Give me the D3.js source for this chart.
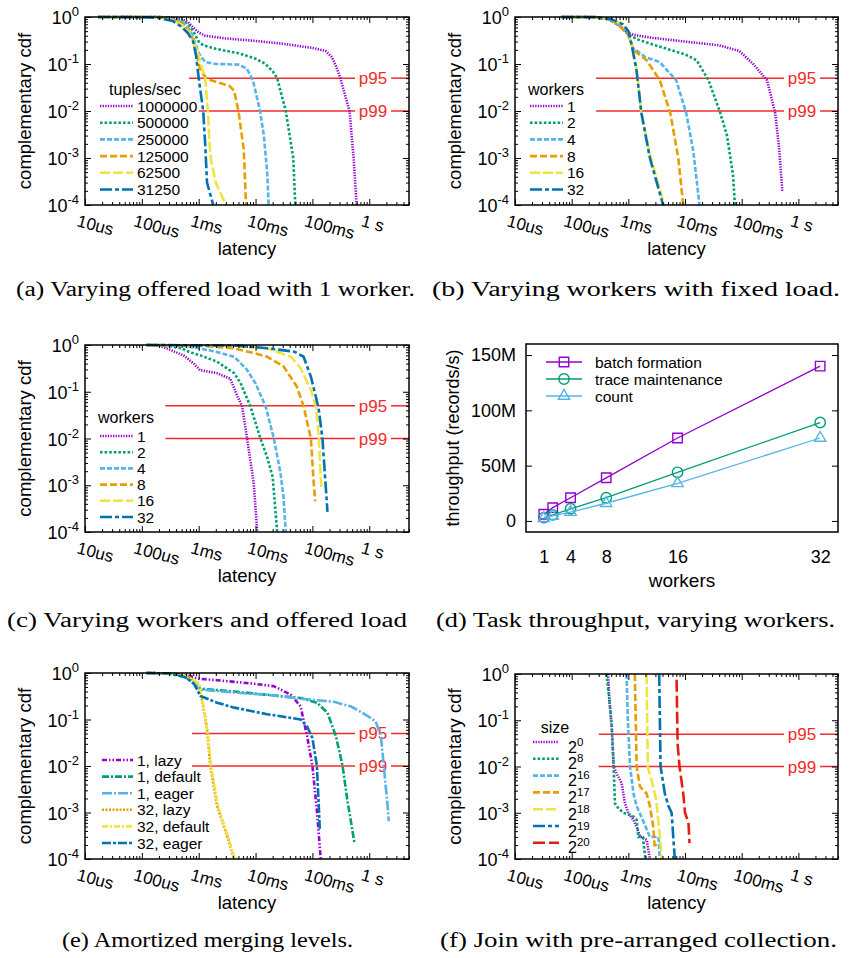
<!DOCTYPE html>
<html>
<head>
<meta charset="utf-8">
<script src="https://cdn.jsdelivr.net/npm/d3@7"></script>
<style>
  body { margin: 0; background: #fff; }
  svg { display: block; }
  text { font-family: "Liberation Sans", Arial, Helvetica, sans-serif; }
  text.caption { font-family: "Liberation Serif", "Times New Roman", serif; }
</style>
</head>
<body>
<svg width="849" height="958"></svg>
<script>
// latency axis (seconds) and ccdf axis
const latencyTicks = [1e-5, 1e-4, 1e-3, 1e-2, 1e-1, 1];
const latencyLabels = ["10us", "100us", "1ms", "10ms", "100ms", "1 s"];
const ccdfExponents = [0, -1, -2, -3, -4];
const percentileValues = [0.05, 0.01];
const percentileLabels = ["p95", "p99"];

// (a) offered load, 1 worker: [latency s, ccdf]
const loadLabels = ["1000000", "500000", "250000", "125000", "62500", "31250"];
const loadCurves = [
  [[1.7e-5,1],[2e-4,1],[3.5e-4,0.96],[5e-4,0.9],[6.5e-4,0.78],[8e-4,0.6],[1e-3,0.47],[1.3e-3,0.4],[3e-3,0.35],[1e-2,0.31],[3e-2,0.27],[1e-1,0.22],[1.7e-1,0.19],[2.2e-1,0.14],[2.6e-1,0.09],[3.1e-1,0.05],[4.5e-1,0.01],[5.3e-1,1e-3],[6e-1,1e-4]],
  [[1.7e-5,1],[2e-4,1],[3.5e-4,0.93],[5e-4,0.85],[6.5e-4,0.72],[8e-4,0.5],[1e-3,0.3],[1.2e-3,0.25],[2e-3,0.21],[5e-3,0.17],[1e-2,0.13],[1.5e-2,0.1],[2e-2,0.07],[2.4e-2,0.05],[3.4e-2,0.01],[4.2e-2,2e-3],[4.6e-2,1e-3],[5e-2,1e-4]],
  [[1.7e-5,1],[2e-4,1],[3.5e-4,0.9],[5e-4,0.8],[6.5e-4,0.6],[8e-4,0.38],[1e-3,0.17],[1.3e-3,0.11],[2e-3,0.1],[5e-3,0.097],[7e-3,0.08],[9e-3,0.045],[1.2e-2,0.01],[1.4e-2,3e-3],[1.6e-2,5e-4],[1.7e-2,1e-4]],
  [[1.7e-5,1],[2e-4,1],[3.5e-4,0.88],[5e-4,0.75],[6.5e-4,0.55],[8e-4,0.33],[1e-3,0.1],[1.1e-3,0.07],[1.4e-3,0.048],[2e-3,0.042],[3.5e-3,0.034],[4.2e-3,0.027],[5e-3,0.01],[6.2e-3,1.5e-3],[6.8e-3,1e-4]],
  [[1.7e-5,1],[2e-4,0.99],[3.5e-4,0.86],[5e-4,0.68],[6.5e-4,0.5],[8e-4,0.33],[1e-3,0.15],[1.15e-3,0.08],[1.3e-3,0.05],[1.45e-3,0.01],[1.55e-3,2e-3],[1.65e-3,9e-4],[2e-3,3e-4],[3e-3,1e-4]],
  [[1.7e-5,1],[1e-4,0.99],[2e-4,0.95],[3.5e-4,0.82],[5e-4,0.62],[6.5e-4,0.45],[8e-4,0.3],[9e-4,0.15],[1e-3,0.05],[1.2e-3,0.01],[1.3e-3,2e-3],[1.4e-3,3e-4],[1.8e-3,1e-4]]
];

// (b) fixed load, varying workers
const workerLabels = ["1", "2", "4", "8", "16", "32"];
const fixedLoadCurves = [
  [[6.6e-5,1],[2.5e-4,1],[4.5e-4,0.9],[7e-4,0.65],[1e-3,0.45],[1.5e-3,0.4],[2.7e-3,0.36],[1e-2,0.3],[4e-2,0.25],[9e-2,0.19],[1.6e-1,0.1],[2.8e-1,0.045],[3.9e-1,0.009],[4.6e-1,1.5e-3],[5.2e-1,2e-4]],
  [[6.6e-5,1],[2.5e-4,1],[4.5e-4,0.9],[7e-4,0.65],[1e-3,0.42],[1.5e-3,0.33],[2.7e-3,0.26],[1e-2,0.16],[1.6e-2,0.12],[2.6e-2,0.045],[4.2e-2,0.009],[5.5e-2,3e-3],[7e-2,4.5e-4],[7.6e-2,1e-4]],
  [[6.6e-5,1],[2.5e-4,1],[5e-4,0.88],[7e-4,0.65],[1e-3,0.42],[1.2e-3,0.22],[2e-3,0.14],[3.6e-3,0.11],[5e-3,0.07],[7e-3,0.045],[1.05e-2,0.009],[1.4e-2,1.4e-3],[1.8e-2,1e-4]],
  [[6.6e-5,1],[2.5e-4,1],[5e-4,0.88],[7e-4,0.65],[1e-3,0.42],[1.23e-3,0.2],[2.1e-3,0.12],[3.6e-3,0.045],[5.5e-3,0.009],[7.6e-3,1e-3],[9.3e-3,1e-4]],
  [[6.6e-5,1],[2.5e-4,0.99],[5e-4,0.9],[8e-4,0.7],[1e-3,0.5],[1.15e-3,0.25],[1.4e-3,0.08],[1.7e-3,0.009],[2.4e-3,1.2e-3],[4.3e-3,1e-4]],
  [[6.6e-5,1],[2.5e-4,0.99],[5e-4,0.9],[8e-4,0.7],[1e-3,0.5],[1.15e-3,0.25],[1.4e-3,0.07],[1.7e-3,0.009],[2.4e-3,1e-3],[4.1e-3,1e-4]]
];

// (c) varying workers and offered load
const scaledLoadCurves = [
  [[1.2e-4,1],[2e-4,0.97],[2.7e-4,0.85],[5.4e-4,0.6],[8.2e-4,0.4],[1.05e-3,0.29],[2.1e-3,0.25],[3.6e-3,0.19],[4.8e-3,0.08],[5.8e-3,0.049],[7.1e-3,0.01],[9.3e-3,1.1e-3],[1.07e-2,1e-4]],
  [[1.2e-4,1],[3e-4,0.95],[5e-4,0.85],[7e-4,0.7],[1.07e-3,0.6],[2.1e-3,0.44],[4.2e-3,0.25],[5.5e-3,0.15],[8.1e-3,0.049],[1.22e-2,0.01],[1.6e-2,4e-3],[2e-2,1.5e-3],[2.4e-2,1e-4]],
  [[1.2e-4,1],[5e-4,0.98],[1e-3,0.85],[2e-3,0.72],[4.2e-3,0.56],[7e-3,0.3],[1e-2,0.15],[1.5e-2,0.049],[2.1e-2,0.01],[2.75e-2,1.8e-3],[3.1e-2,5.6e-4],[3.4e-2,1e-4]],
  [[1.2e-4,1],[1e-3,0.97],[4e-3,0.85],[1e-2,0.66],[1.6e-2,0.56],[3.1e-2,0.35],[5.3e-2,0.13],[7e-2,0.049],[9.4e-2,0.01],[1.05e-1,1.2e-3],[1.12e-1,4.5e-4]],
  [[1.2e-4,1],[3e-3,0.97],[1.6e-2,0.85],[4.2e-2,0.56],[6.2e-2,0.32],[9.4e-2,0.11],[1.15e-1,0.049],[1.3e-1,0.01],[1.4e-1,1.5e-3],[1.45e-1,8e-4]],
  [[1.2e-4,1],[5e-3,0.97],[1.6e-2,0.85],[4.8e-2,0.72],[7e-2,0.56],[9.4e-2,0.21],[1.15e-1,0.078],[1.3e-1,0.04],[1.5e-1,0.01],[1.7e-1,1.1e-3],[1.84e-1,2.7e-4]]
];

// (d) task throughput (million records/s)
const throughputWorkers = [1, 2, 4, 8, 16, 32];
const workerTickValues = [1, 4, 8, 16, 32];
const throughputTickValues = [0, 50, 100, 150];
const throughputLabels = ["batch formation", "trace maintenance", "count"];
const batchFormation = [6, 12, 21, 39, 75, 140];
const traceMaintenance = [3, 5.5, 11, 21, 44, 89];
const countTask = [2.5, 4.5, 8, 16, 34, 75];

// (e) amortized merging levels
const mergeLabels = ["1, lazy", "1, default", "1, eager", "32, lazy", "32, default", "32, eager"];
const mergeCurves = [
  [[1.2e-4,1],[3e-4,0.98],[6.2e-4,0.9],[1e-3,0.75],[2.1e-3,0.7],[8e-3,0.6],[2.1e-2,0.52],[4.2e-2,0.34],[6.2e-2,0.19],[8.1e-2,0.043],[1e-1,0.01],[1.2e-1,1.1e-3],[1.4e-1,1e-4]],
  [[1.2e-4,1],[4e-4,0.95],[6e-4,0.8],[8e-4,0.6],[1.07e-3,0.46],[4.2e-3,0.4],[1.6e-2,0.34],[6.2e-2,0.29],[1.2e-1,0.23],[1.84e-1,0.14],[2.6e-1,0.043],[3.4e-1,0.01],[4.1e-1,1.9e-3],[5.5e-1,2.2e-4]],
  [[1.2e-4,1],[4e-4,0.95],[6e-4,0.8],[8e-4,0.6],[1.07e-3,0.44],[4.2e-3,0.38],[1.6e-2,0.34],[6.2e-2,0.28],[2.4e-1,0.24],[4.8e-1,0.19],[9.3e-1,0.12],[1.3,0.09],[1.6,0.045],[1.8,0.01],[2.1,1.4e-3],[2.2,6.5e-4]],
  [[1.2e-4,1],[3e-4,0.98],[6.2e-4,0.85],[1e-3,0.6],[1.23e-3,0.16],[1.4e-3,0.06],[1.6e-3,0.01],[2.1e-3,1.4e-3],[3.2e-3,3e-4],[4.2e-3,1e-4]],
  [[1.2e-4,1],[3e-4,0.98],[6.2e-4,0.85],[1e-3,0.6],[1.25e-3,0.16],[1.45e-3,0.05],[1.65e-3,0.01],[2.2e-3,1.3e-3],[3.3e-3,3e-4],[4.3e-3,1e-4]],
  [[1.2e-4,1],[3e-4,0.98],[6e-4,0.8],[8.2e-4,0.6],[1.07e-3,0.32],[2.1e-3,0.23],[4.2e-3,0.18],[1.6e-2,0.13],[6.2e-2,0.1],[8.1e-2,0.07],[1e-1,0.04],[1.2e-1,0.01],[1.3e-1,1.2e-3],[1.35e-1,4.3e-4]]
];

// (f) join with pre-arranged collection, size = 2^k
const sizeExponents = [0, 8, 16, 17, 18, 19, 20];
const joinCurves = [
  [[4.4e-4,1],[4.6e-4,0.3],[5.1e-4,0.07],[5.5e-4,0.01],[6.2e-4,7e-3],[7.6e-4,4.4e-3],[8.7e-4,1.6e-3],[1e-3,1e-3],[1.23e-3,7e-4],[1.4e-3,5e-4],[1.6e-3,3.1e-4],[2.1e-3,2.6e-4],[2.4e-3,1e-4]],
  [[4.1e-4,1],[4.6e-4,0.3],[5.1e-4,0.07],[5.5e-4,0.01],[5.8e-4,1.6e-3],[6.5e-4,1.3e-3],[8.1e-4,1e-3],[1.23e-3,8.3e-4],[1.4e-3,7e-4],[1.5e-3,3e-4],[1.8e-3,3e-4],[2e-3,1e-4]],
  [[9.3e-4,1],[9.8e-4,0.1],[1.07e-3,0.01],[1.23e-3,2.6e-3],[1.4e-3,1.4e-3],[1.8e-3,7e-4],[2.4e-3,3e-4],[3.4e-3,3e-4],[3.6e-3,1e-4]],
  [[1.3e-3,1],[1.35e-3,0.1],[1.4e-3,0.01],[1.6e-3,3.7e-3],[2.1e-3,2.6e-3],[2.4e-3,1.4e-3],[2.75e-3,5e-4],[2.9e-3,2e-4],[3.4e-3,2e-4]],
  [[2.1e-3,1],[2.15e-3,0.1],[2.2e-3,0.01],[2.75e-3,3.7e-3],[3.1e-3,1.9e-3],[3.6e-3,3e-4],[3.9e-3,1e-4]],
  [[3.5e-3,1],[3.6e-3,0.1],[3.7e-3,0.01],[4.4e-3,2.6e-3],[5.1e-3,1.4e-3],[5.8e-3,1e-3],[6.2e-3,3e-4],[6.6e-3,1e-4]],
  [[7.1e-3,0.75],[7.4e-3,0.03],[8e-3,0.01],[9.3e-3,2.6e-3],[1e-2,1e-3],[1.15e-2,6e-4],[1.2e-2,2.2e-4]]
];

const svg = d3.select("svg");
const red = "#f02a2a";
const sans = '"Liberation Sans", Arial, Helvetica, sans-serif';

const cdfStyles = [
  { color: "#9400d3", dash: "1.3,1.3" },
  { color: "#009e73", dash: "2.6,2" },
  { color: "#56b4e9", dash: "5,2" },
  { color: "#e69f00", dash: "7,3" },
  { color: "#f0e442", dash: "10,3" },
  { color: "#0072b2", dash: "12,3,4,3" },
  { color: "#e51e10", dash: "12,4" }
];
const mergeStyles = [
  { color: "#9400d3", dash: "5,2,1.5,2,1.5,2" },
  { color: "#009e73", dash: "7,2,2,2" },
  { color: "#56b4e9", dash: "10,2,2,2" },
  { color: "#e69f00", dash: "2,1.5" },
  { color: "#f0e442", dash: "6,2,2,2" },
  { color: "#0072b2", dash: "9,2,3,2" }
];

function addTicks(g, axisFn, scale, values, size, tx, ty) {
  const a = g.append("g")
    .attr("transform", "translate(" + tx + "," + ty + ")")
    .call(axisFn(scale).tickValues(values).tickSize(-size).tickSizeOuter(0).tickFormat(""));
  a.select(".domain").remove();
  a.selectAll("line").attr("stroke", "#000").attr("stroke-width", 1);
}

function cdfPanel(p) {
  const [x0, x1, y0, y1] = p.frame;
  const x = d3.scaleLog().domain([1e-5, 5]).range([x0, x1]);
  const y = d3.scaleLog().domain([1e-4, 1]).range([y1, y0]);
  const g = svg.append("g");

  const isMajor = v => Math.abs(Math.log10(v) - Math.round(Math.log10(v))) < 1e-6;
  const xMinor = x.ticks().filter(v => !isMajor(v));
  const yMinor = y.ticks().filter(v => !isMajor(v));
  const yMajor = ccdfExponents.map(e => Math.pow(10, e));

  // percentile reference lines with a gap for the label
  const labelX = x1 - 36;
  percentileValues.forEach((v, i) => {
    const py = y(v);
    g.append("line").attr("x1", x(p.pStart[i])).attr("x2", labelX - 18)
      .attr("y1", py).attr("y2", py).attr("stroke", red).attr("stroke-width", 1.5);
    g.append("line").attr("x1", labelX + 18).attr("x2", x1)
      .attr("y1", py).attr("y2", py).attr("stroke", red).attr("stroke-width", 1.5);
    g.append("text").attr("x", labelX).attr("y", py + 6)
      .attr("text-anchor", "middle").attr("font-size", 17).attr("fill", red)
      .text(percentileLabels[i]);
  });

  // curves
  const line = d3.line().x(d => x(d[0])).y(d => y(d[1]));
  p.curves.forEach((c, i) => {
    const s = p.styles[i];
    g.append("path").attr("d", line(c)).attr("fill", "none")
      .attr("stroke", s.color).attr("stroke-width", 2.6)
      .attr("stroke-dasharray", s.dash);
  });

  // frame and ticks on all sides
  g.append("rect").attr("x", x0).attr("y", y0).attr("width", x1 - x0).attr("height", y1 - y0)
    .attr("fill", "none").attr("stroke", "#000").attr("stroke-width", 1.5);
  addTicks(g, d3.axisBottom, x, latencyTicks, 6, 0, y1);
  addTicks(g, d3.axisBottom, x, xMinor, 3, 0, y1);
  addTicks(g, d3.axisTop, x, latencyTicks, 6, 0, y0);
  addTicks(g, d3.axisTop, x, xMinor, 3, 0, y0);
  addTicks(g, d3.axisLeft, y, yMajor, 6, x0, 0);
  addTicks(g, d3.axisLeft, y, yMinor, 3, x0, 0);
  addTicks(g, d3.axisRight, y, yMajor, 6, x1, 0);
  addTicks(g, d3.axisRight, y, yMinor, 3, x1, 0);

  // y tick labels 10^k
  ccdfExponents.forEach(e => {
    const t = g.append("text").attr("x", x0 - 6).attr("y", y(Math.pow(10, e)) + 7)
      .attr("text-anchor", "end").attr("font-size", 18);
    t.append("tspan").text("10");
    t.append("tspan").attr("dy", -8).attr("font-size", 13).text(e);
  });

  // rotated x tick labels
  latencyTicks.forEach((v, i) => {
    const tx = x(v) - 9, ty = y1 + 21;
    g.append("text").attr("transform", "translate(" + tx + "," + ty + ") rotate(15)")
      .attr("font-size", 17).text(latencyLabels[i]);
  });

  // axis titles
  g.append("text").attr("x", (x0 + x1) / 2).attr("y", y1 + 50)
    .attr("text-anchor", "middle").attr("font-size", 18.5).text("latency");
  g.append("text").attr("transform", "translate(" + (x0 - 54) + "," + ((y0 + y1) / 2) + ") rotate(-90)")
    .attr("text-anchor", "middle").attr("font-size", 18.5).text("complementary cdf");

  // legend
  const L = p.legend;
  if (L.title) {
    g.append("text").attr("x", L.titleX).attr("y", L.titleY + 5.5)
      .attr("text-anchor", "middle").attr("font-size", 16).text(L.title);
  }
  p.labels.forEach((lab, i) => {
    const ly = L.y + i * L.dy;
    const s = p.styles[i];
    g.append("line").attr("x1", L.x).attr("x2", L.x + L.len).attr("y1", ly).attr("y2", ly)
      .attr("stroke", s.color).attr("stroke-width", 2.6).attr("stroke-dasharray", s.dash);
    if (L.sup) {
      const t = g.append("text").attr("x", L.textX).attr("y", ly + 10.5).attr("font-size", 16);
      t.append("tspan").text("2");
      t.append("tspan").attr("dy", -7).attr("font-size", 11.5).text(lab);
    } else {
      g.append("text").attr("x", L.x + L.len + 4).attr("y", ly + 5.5)
        .attr("font-size", 15.5).text(lab);
    }
  });
}

cdfPanel({ frame: [85, 409, 17, 205], curves: loadCurves, labels: loadLabels, styles: cdfStyles,
  legend: { x: 100, y: 106, dy: 16.7, len: 33, title: "tuples/sec", titleX: 145, titleY: 89 },
  pStart: [6.7e-4, 1e-3] });
cdfPanel({ frame: [515, 838, 17, 205], curves: fixedLoadCurves, labels: workerLabels, styles: cdfStyles,
  legend: { x: 530, y: 106, dy: 16.7, len: 33, title: "workers", titleX: 556, titleY: 89 },
  pStart: [2.7e-4, 2.7e-4] });
cdfPanel({ frame: [85, 409, 345, 532], curves: scaledLoadCurves, labels: workerLabels, styles: cdfStyles,
  legend: { x: 100, y: 436, dy: 16.2, len: 33, title: "workers", titleX: 126, titleY: 417 },
  pStart: [2.6e-4, 2.6e-4] });
cdfPanel({ frame: [85, 409, 673, 859], curves: mergeCurves, labels: mergeLabels, styles: mergeStyles,
  legend: { x: 102, y: 760, dy: 16.6, len: 31 },
  pStart: [7.6e-4, 7.6e-4] });
cdfPanel({ frame: [515, 838, 674, 859], curves: joinCurves, labels: sizeExponents, styles: cdfStyles,
  legend: { x: 533, y: 742, dy: 16.8, len: 26, title: "size", titleX: 555, titleY: 727, sup: true, textX: 568 },
  pStart: [3e-4, 3e-4] });

// (d) throughput panel
(function () {
  const x0 = 526, x1 = 838, y0 = 344, y1 = 532;
  const x = d3.scaleLinear().domain([-1, 34]).range([x0, x1]);
  const y = d3.scaleLinear().domain([-10, 160]).range([y1, y0]);
  const g = svg.append("g");
  const series = [batchFormation, traceMaintenance, countTask];
  const colors = ["#9400d3", "#009e73", "#56b4e9"];
  const shapes = [d3.symbolSquare, d3.symbolCircle, d3.symbolTriangle];
  const sizes = [90, 85, 55];

  const line = d3.line().x((d, i) => x(throughputWorkers[i])).y(d => y(d));
  series.forEach((s, k) => {
    g.append("path").attr("d", line(s)).attr("fill", "none")
      .attr("stroke", colors[k]).attr("stroke-width", 1.3);
    g.selectAll(null).data(s).enter().append("path")
      .attr("transform", (d, i) => "translate(" + x(throughputWorkers[i]) + "," + y(d) + ")")
      .attr("d", d3.symbol().type(shapes[k]).size(sizes[k]))
      .attr("fill", "none").attr("stroke", colors[k]).attr("stroke-width", 1.4);
  });

  g.append("rect").attr("x", x0).attr("y", y0).attr("width", x1 - x0).attr("height", y1 - y0)
    .attr("fill", "none").attr("stroke", "#000").attr("stroke-width", 1.5);

  const yl = g.append("g").attr("transform", "translate(" + x0 + ",0)")
    .call(d3.axisLeft(y).tickValues(throughputTickValues).tickSize(-6).tickSizeOuter(0)
      .tickPadding(10).tickFormat(d => d === 0 ? "0" : d + "M"));
  yl.select(".domain").remove();
  yl.selectAll("line").attr("stroke", "#000");
  yl.selectAll("text").attr("font-size", 18).attr("fill", "#000").attr("font-family", sans);
  addTicks(g, d3.axisRight, y, throughputTickValues, 6, x1, 0);

  const xl = g.append("g").attr("transform", "translate(0," + y1 + ")")
    .call(d3.axisBottom(x).tickValues(workerTickValues).tickSize(0).tickSizeOuter(0).tickPadding(18));
  xl.select(".domain").remove();
  xl.selectAll("text").attr("font-size", 18).attr("fill", "#000").attr("font-family", sans);

  g.append("text").attr("x", (x0 + x1) / 2).attr("y", 587)
    .attr("text-anchor", "middle").attr("font-size", 19).text("workers");
  g.append("text").attr("transform", "translate(459," + ((y0 + y1) / 2) + ") rotate(-90)")
    .attr("text-anchor", "middle").attr("font-size", 18).text("throughput (records/s)");

  throughputLabels.forEach((lab, k) => {
    const ly = 362 + k * 17;
    g.append("line").attr("x1", 546).attr("x2", 582).attr("y1", ly).attr("y2", ly)
      .attr("stroke", colors[k]).attr("stroke-width", 1.3);
    g.append("path").attr("transform", "translate(564," + ly + ")")
      .attr("d", d3.symbol().type(shapes[k]).size(sizes[k]))
      .attr("fill", "none").attr("stroke", colors[k]).attr("stroke-width", 1.4);
    g.append("text").attr("x", 595).attr("y", ly + 5.5).attr("font-size", 15.5).text(lab);
  });
})();

// captions
const captions = [
  { text: "(a) Varying offered load with 1 worker.", x: 16, y: 296, w: 399 },
  { text: "(b) Varying workers with fixed load.", x: 432, y: 296, w: 408 },
  { text: "(c) Varying workers and offered load", x: 7, y: 627, w: 400 },
  { text: "(d) Task throughput, varying workers.", x: 436, y: 627, w: 399 },
  { text: "(e) Amortized merging levels.", x: 62, y: 947, w: 291 },
  { text: "(f) Join with pre-arranged collection.", x: 440, y: 947, w: 397 }
];
captions.forEach(c => {
  svg.append("text").attr("class", "caption").attr("x", c.x).attr("y", c.y)
    .attr("font-size", 20).attr("textLength", c.w).attr("lengthAdjust", "spacingAndGlyphs")
    .text(c.text);
});
</script>
</body>
</html>
